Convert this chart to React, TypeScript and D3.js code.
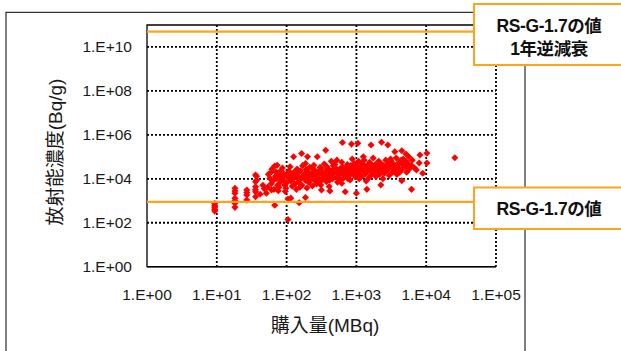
import React from "react";
import * as d3 from "d3";

// Purchase amount (MBq) vs. radioactivity concentration (Bq/g), as log10 exponents [x, y]
const lowColumns: [number, number][] = [
  [0.97, 2.88], [0.97, 2.78], [0.97, 2.7], [0.97, 2.62], [0.97, 2.53],
  [1.26, 3.57], [1.26, 3.45], [1.26, 3.34], [1.26, 3.11], [1.26, 3.0], [1.26, 2.89], [1.26, 2.7],
  [1.43, 3.49], [1.43, 3.38], [1.43, 3.26], [1.43, 3.03],
  [1.555, 4.17], [1.555, 3.87], [1.555, 3.64], [1.555, 3.5], [1.555, 3.41], [1.555, 3.18],
  [1.66, 3.71], [1.71, 3.34], [1.785, 3.49], [1.83, 2.8], [1.62, 3.3], [1.68, 3.55],
];

const mainBand: [number, number][] = [
  [1.73, 3.62], [1.76, 4.02], [1.74, 4.21], [1.78, 3.78], [1.81, 3.92], [1.79, 4.44], [1.82, 3.52],
  [1.84, 4.12], [1.86, 4.01], [1.87, 3.71], [1.85, 4.31], [1.88, 3.46], [1.83, 4.58], [1.91, 3.86],
  [1.9, 4.16], [1.92, 4.38], [1.89, 3.62], [1.93, 4.06], [1.96, 4.22], [1.95, 3.95], [1.97, 3.72],
  [1.94, 4.49], [1.98, 3.42],
  [2.01, 4.11], [2.0, 3.82], [2.03, 4.36], [1.99, 3.57], [2.04, 4.0], [2.02, 4.26], [2.06, 3.9],
  [2.07, 4.2], [2.05, 4.55], [2.08, 3.66], [2.09, 4.06], [2.11, 4.31], [2.12, 3.77], [2.1, 4.02],
  [2.13, 4.16], [2.14, 3.52], [2.16, 4.1], [2.15, 4.45], [2.17, 3.86], [2.18, 3.96], [2.16, 4.26],
  [2.19, 3.62], [2.21, 4.02], [2.2, 4.36], [2.22, 3.71], [2.23, 4.6], [2.24, 4.16], [2.26, 4.22],
  [2.27, 3.92], [2.25, 4.06], [2.28, 4.42], [2.29, 3.58], [2.27, 4.7],
  [2.31, 4.12], [2.32, 3.82], [2.3, 4.32], [2.33, 4.52], [2.34, 3.97], [2.36, 4.27], [2.35, 4.02],
  [2.37, 3.67], [2.38, 4.47], [2.36, 4.17], [2.41, 4.37], [2.4, 3.92], [2.42, 4.12], [2.39, 4.62],
  [2.43, 3.77], [2.44, 4.22], [2.46, 4.02], [2.45, 4.32], [2.47, 3.87], [2.48, 4.52], [2.46, 4.17],
  [2.51, 4.24], [2.5, 4.47], [2.52, 3.97], [2.53, 4.07], [2.49, 3.72], [2.54, 4.67], [2.56, 4.34],
  [2.55, 4.12], [2.57, 3.87], [2.58, 4.54], [2.59, 4.02],
  [2.61, 4.2], [2.6, 4.45], [2.62, 3.95], [2.63, 4.3], [2.64, 4.8], [2.61, 3.65], [2.66, 4.4],
  [2.65, 4.1], [2.67, 4.6], [2.68, 4.25], [2.66, 4.0], [2.71, 4.3], [2.7, 4.5], [2.72, 4.05],
  [2.73, 3.85], [2.69, 4.65], [2.74, 4.2], [2.76, 4.45], [2.75, 4.15], [2.77, 4.35], [2.78, 3.95],
  [2.79, 4.75], [2.81, 4.25], [2.8, 4.55], [2.82, 4.05], [2.83, 4.4], [2.79, 3.8], [2.84, 4.3],
  [2.86, 4.5], [2.85, 4.2], [2.87, 4.65], [2.88, 4.0], [2.89, 4.35],
  [2.91, 4.4], [2.9, 4.15], [2.92, 4.6], [2.93, 4.3], [2.94, 4.9], [2.91, 3.95], [2.96, 4.5],
  [2.95, 4.25], [2.97, 4.7], [2.98, 4.1], [2.99, 4.4], [3.01, 4.35], [3.0, 4.6], [3.02, 4.2],
  [3.03, 4.8], [3.04, 4.0], [3.01, 4.45], [3.06, 4.55], [3.05, 4.3], [3.07, 4.1], [3.08, 4.7],
  [3.09, 4.4], [3.11, 4.45], [3.1, 4.65], [3.12, 4.2], [3.13, 4.35], [3.14, 3.9], [3.11, 4.85],
  [3.16, 4.6], [3.15, 4.3], [3.17, 4.5], [3.18, 4.05], [3.19, 4.75],
  [3.21, 4.4], [3.2, 4.7], [3.22, 4.2], [3.23, 4.55], [3.24, 4.95], [3.26, 4.5], [3.25, 4.3],
  [3.27, 4.65], [3.28, 4.1], [3.29, 4.4], [3.31, 4.6], [3.3, 4.35], [3.32, 4.8], [3.33, 4.2],
  [3.34, 4.5], [3.36, 4.45], [3.35, 4.7], [3.37, 4.3], [3.38, 4.0], [3.39, 4.6], [3.41, 4.55],
  [3.4, 4.25], [3.42, 4.85], [3.43, 4.4], [3.46, 4.7], [3.45, 4.4], [3.47, 4.15], [3.48, 4.6],
  [3.49, 4.9],
  [3.51, 4.5], [3.5, 4.8], [3.52, 4.3], [3.53, 4.65], [3.56, 4.6], [3.55, 4.4], [3.57, 4.95],
  [3.58, 4.2], [3.61, 4.75], [3.6, 4.5], [3.62, 4.3], [3.64, 4.85], [3.66, 4.65], [3.65, 4.4],
  [3.67, 4.9], [3.7, 4.55], [3.71, 4.8], [3.72, 4.3], [3.74, 4.7], [3.76, 4.45], [3.75, 5.0],
  [3.79, 4.6], [3.8, 4.85], [3.83, 4.5],
];

const scattered: [number, number][] = [
  [2.02, 2.15], [2.18, 2.91], [2.02, 3.08], [2.06, 3.12], [2.27, 3.15], [3.0, 3.34], [2.84, 3.41],
  [2.62, 3.45], [2.5, 3.49], [3.15, 3.52], [3.35, 3.72], [3.65, 3.91], [3.79, 3.52], [3.95, 4.25],
  [4.01, 4.72], [4.01, 5.16], [3.9, 4.72], [3.91, 5.08], [3.86, 4.4], [4.41, 4.96], [3.71, 5.13],
  [3.65, 5.28], [3.55, 5.23], [3.45, 5.54], [3.36, 5.66], [3.21, 5.54], [3.02, 5.62], [2.93, 5.58],
  [2.8, 5.65], [2.56, 5.3], [2.44, 5.0], [2.215, 5.15], [2.1, 5.0], [2.3, 5.0], [1.865, 4.62],
  [1.57, 4.12], [1.57, 3.94], [1.785, 4.32], [2.72, 4.85], [3.1, 5.0], [3.69, 4.78], [3.62, 4.71],
];

// Reference levels (Bq/g)
const rsgValue = 9e2;
const rsgDecayed = 5e10;
const rsgLabel = "RS-G-1.7の値";
const rsgDecayedLabel = "1年逆減衰";

const xTickExps = [0, 1, 2, 3, 4, 5];
const yTickExps = [0, 2, 4, 6, 8, 10];
const xTitle = "購入量(MBq)";
const yTitle = "放射能濃度(Bq/g)";

const W = 621;
const H = 351;
const plot = { left: 147, right: 496, top: 25, bottom: 266.7 };
const ORANGE = "#FFA31A";
const LATIN = "'Liberation Sans', Arial, 'Noto Sans CJK JP', sans-serif";

const fmt = (e: number) => `1.E+${String(e).padStart(2, "0")}`;

export default function App() {
  const x = d3.scaleLog().domain([1, 1e5]).range([plot.left, plot.right]);
  const y = d3.scaleLog().domain([1, 1e11]).range([plot.bottom, plot.top]);

  const points = [...lowColumns, ...mainBand, ...scattered].map(([a, b]) => [10 ** a, 10 ** b]);
  const diamond = d3.symbol(d3.symbolSquare, 25)() as string;
  const boxLeft = 474;

  return (
    <svg width={W} height={H} style={{ position: "absolute", left: 0, top: 0, background: "#fff" }}>
      {/* outer frame */}
      <rect x={6} y={12.3} width={519} height={360} fill="none" stroke="#000" strokeWidth={1} />

      {/* dotted grid */}
      {xTickExps.slice(1).map((e) => (
        <line key={"gx" + e} x1={x(10 ** e)} x2={x(10 ** e)} y1={plot.top} y2={plot.bottom}
          stroke="#000" strokeWidth={1.8} strokeDasharray="2 2" />
      ))}
      {yTickExps.slice(1).map((e) => (
        <line key={"gy" + e} x1={plot.left} x2={plot.right} y1={y(10 ** e)} y2={y(10 ** e)}
          stroke="#000" strokeWidth={1.8} strokeDasharray="2 2" />
      ))}

      {/* plot border: left, top, bottom */}
      <path d={`M${plot.right},${plot.top}H${plot.left}V${plot.bottom}H${plot.right}`}
        fill="none" stroke="#000" strokeWidth={1.3} />
      <line x1={plot.left} x2={plot.right} y1={plot.bottom} y2={plot.bottom} stroke="#000" strokeWidth={1.6} />

      {/* data */}
      <g fill="#FF0000">
        {points.map(([a, b], i) => (
          <path key={i} d={diamond} transform={`translate(${x(a)},${y(b)}) rotate(45)`} />
        ))}
      </g>

      {/* reference lines */}
      <line x1={plot.left} x2={boxLeft} y1={y(rsgDecayed)} y2={y(rsgDecayed)} stroke={ORANGE} strokeWidth={2.2} />
      <line x1={plot.left} x2={boxLeft} y1={y(rsgValue)} y2={y(rsgValue)} stroke={ORANGE} strokeWidth={2.2} />

      {/* annotation boxes */}
      <rect x={boxLeft} y={4} width={170} height={61} fill="#fff" stroke={ORANGE} strokeWidth={2} />
      <rect x={boxLeft} y={187.5} width={170} height={41.5} fill="#fff" stroke={ORANGE} strokeWidth={2} />
      <g fontFamily={LATIN} fontWeight="bold" fontSize={17.5} fill="#111" textAnchor="middle" letterSpacing={-0.4}>
        <text x={549} y={31.5}>{rsgLabel}</text>
        <text x={549} y={54.5}>{rsgDecayedLabel}</text>
        <text x={549} y={214.5}>{rsgLabel}</text>
      </g>

      {/* tick labels */}
      <g fontFamily={LATIN} fontSize={15.5} fill="#1a1a1a">
        {yTickExps.map((e) => (
          <text key={"ty" + e} x={132} y={y(10 ** e) + 5.5} textAnchor="end">{fmt(e)}</text>
        ))}
        {xTickExps.map((e) => (
          <text key={"tx" + e} x={x(10 ** e)} y={300} textAnchor="middle">{fmt(e)}</text>
        ))}
      </g>

      {/* axis titles */}
      <text x={325} y={332} textAnchor="middle" fontFamily={LATIN} fontSize={19} fill="#1a1a1a">{xTitle}</text>
      <text transform="translate(62,152) rotate(-90)" textAnchor="middle" fontFamily={LATIN} fontSize={19} fill="#1a1a1a">{yTitle}</text>
    </svg>
  );
}
